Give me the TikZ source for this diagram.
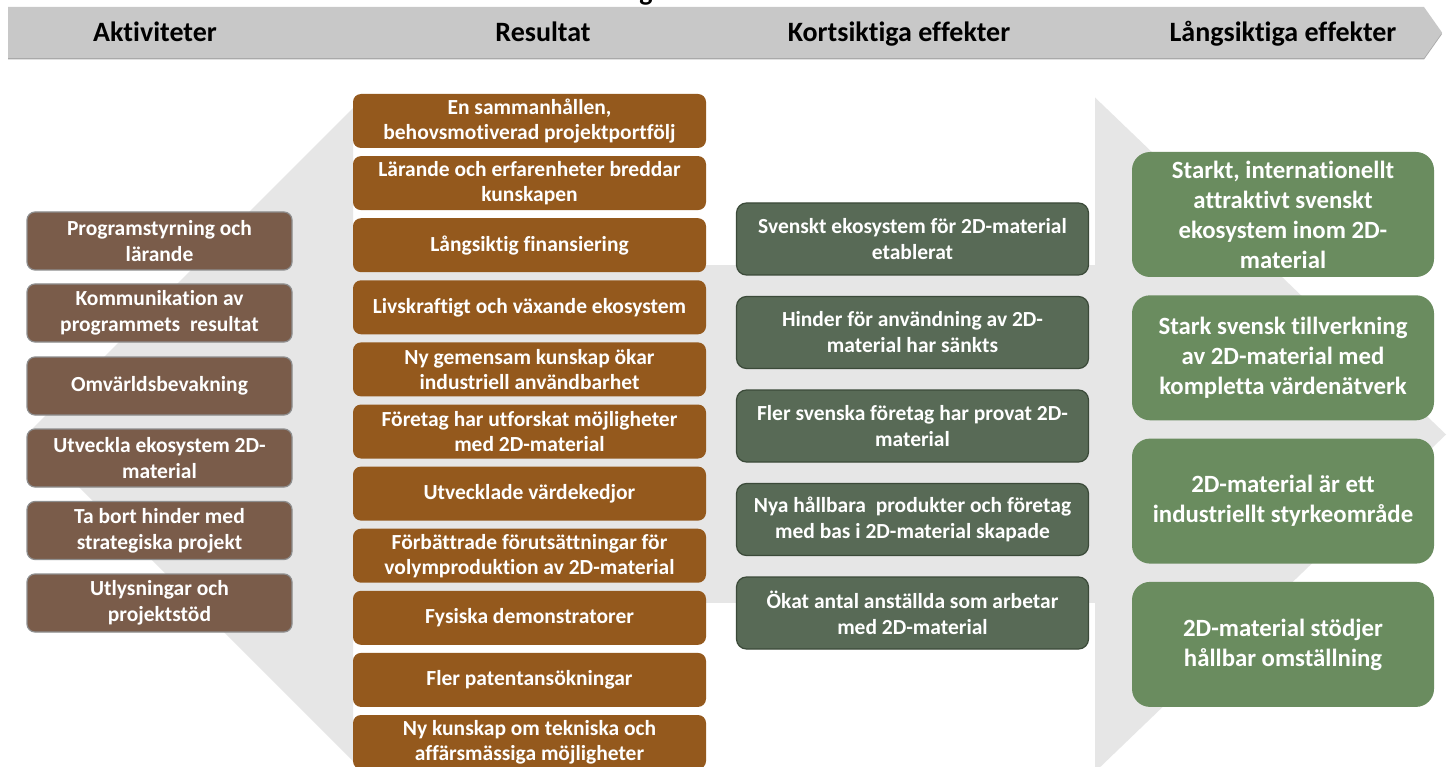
\documentclass[tikz,border=0pt]{standalone}
\usepackage{fontspec}
\setmainfont{Carlito}[Ligatures=NoCommon]
\definecolor{bgc}{HTML}{E6E6E6}
\definecolor{banc}{HTML}{C8C8C8}
\definecolor{bansh}{HTML}{A9A9A9}
\definecolor{actc}{HTML}{7A5C4A}
\definecolor{actb}{HTML}{8E8E8E}
\definecolor{resc}{HTML}{94591D}
\definecolor{stc}{HTML}{586A56}
\definecolor{stb}{HTML}{3B4A39}
\definecolor{ltc}{HTML}{6A8C5F}
\newcommand\hdfont{\fontsize{28}{32}\selectfont\bfseries}
\newcommand\actfont{\fontsize{21.5}{26}\selectfont\bfseries}
\newcommand\resfont{\fontsize{21.5}{25}\selectfont\bfseries}
\newcommand\stfont{\fontsize{21.5}{26}\selectfont\bfseries}
\newcommand\ltfont{\fontsize{24.8}{30}\selectfont\bfseries}
\tikzset{
  hd/.style={font=\hdfont, text=black, inner sep=0pt, anchor=base},
  act/.style={rectangle, rounded corners=8pt, fill=actc, draw=actb, line width=1.2pt,
    minimum width=265pt, minimum height=58pt, text=white, font=\actfont, align=center, inner sep=0pt},
  res/.style={rectangle, rounded corners=8pt, fill=resc,
    minimum width=353pt, minimum height=54pt, text=white, font=\resfont, align=center, inner sep=0pt},
  st/.style={rectangle, rounded corners=10pt, fill=stc, draw=stb, line width=1.2pt,
    minimum width=352pt, minimum height=72pt, text=white, font=\stfont, align=center, inner sep=0pt},
  lt/.style={rectangle, rounded corners=18pt, fill=ltc,
    minimum width=302pt, minimum height=125pt, text=white, font=\ltfont, align=center, inner sep=0pt}
}
\begin{document}
\begin{tikzpicture}[x=1pt,y=-1pt]
\useasboundingbox (0,0) rectangle (1456,767);
\fill[white] (0,0) rectangle (1456,767);
% background arrow shape
\fill[bgc] (26.5,434.5) -- (353,108) -- (353,761) -- cycle;
\fill[bgc] (353,265) rectangle (1096,603);
\fill[bgc] (1095,97.5) -- (1446,434.5) -- (1095,772) -- cycle;
% cut-off title fragment
\node[anchor=base, font=\fontsize{28}{32}\selectfont\bfseries, inner sep=0pt] (gfrag) at (646,0.5) {g};
% banner
\fill[bansh] (8,8.5) -- (1424,8.5) -- (1442,34) -- (1424,59.5) -- (8,59.5) -- cycle;
\fill[banc] (8,7) -- (1424,7) -- (1442,32.5) -- (1424,58) -- (8,58) -- cycle;
\node[hd] (h1) at (155,42) {Aktiviteter};
\node[hd] (h2) at (543,42) {Resultat};
\node[hd] (h3) at (899,42) {Kortsiktiga effekter};
\node[hd] (h4) at (1283,42) {Långsiktiga effekter};
% activities
\node[act] (a1) at (159.5,241) {Programstyrning och\\lärande};
\node[act] (a2) at (159.5,313) {Kommunikation av\\programmets\ \ resultat};
\node[act] (a3) at (159.5,386) {Omvärldsbevakning};
\node[act] (a4) at (159.5,458) {Utveckla ekosystem 2D-\\material};
\node[act] (a5) at (159.5,530.5) {Ta bort hinder med\\strategiska projekt};
\node[act] (a6) at (159.5,603) {Utlysningar och\\projektstöd};
% results
\node[res] (r1) at (529.5,121) {En sammanhållen,\\behovsmotiverad projektportfölj};
\node[res] (r2) at (529.5,183.1) {Lärande och erfarenheter breddar\\kunskapen};
\node[res] (r3) at (529.5,245.2) {Långsiktig finansiering};
\node[res] (r4) at (529.5,307.3) {Livskraftigt och växande ekosystem};
\node[res] (r5) at (529.5,369.4) {Ny gemensam kunskap ökar\\industriell användbarhet};
\node[res] (r6) at (529.5,431.5) {Företag har utforskat möjligheter\\med 2D-material};
\node[res] (r7) at (529.5,493.6) {Utvecklade värdekedjor};
\node[res] (r8) at (529.5,555.7) {Förbättrade förutsättningar för\\volymproduktion av 2D-material};
\node[res] (r9) at (529.5,617.8) {Fysiska demonstratorer};
\node[res] (r10) at (529.5,679.9) {Fler patentansökningar};
\node[res] (r11) at (529.5,742) {Ny kunskap om tekniska och\\affärsmässiga möjligheter};
% short-term
\node[st] (s1) at (912.5,239) {Svenskt ekosystem för 2D-material\\etablerat};
\node[st] (s2) at (912.5,332.5) {Hinder för användning av 2D-\\material har sänkts};
\node[st] (s3) at (912.5,426) {Fler svenska företag har provat 2D-\\material};
\node[st] (s4) at (912.5,519.5) {Nya hållbara\ \ produkter och företag\\med bas i 2D-material skapade};
\node[st] (s5) at (912.5,613) {Ökat antal anställda som arbetar\\med 2D-material};
% long-term
\node[lt] (l1) at (1283,214.5) {Starkt, internationellt\\attraktivt svenskt\\ekosystem inom 2D-\\material};
\node[lt] (l2) at (1283,357.8) {Stark svensk tillverkning\\av 2D-material med\\kompletta värdenätverk};
\node[lt] (l3) at (1283,501.1) {2D-material är ett\\industriellt styrkeområde};
\node[lt] (l4) at (1283,644.4) {2D-material stödjer\\hållbar omställning};
\end{tikzpicture}
\end{document}
